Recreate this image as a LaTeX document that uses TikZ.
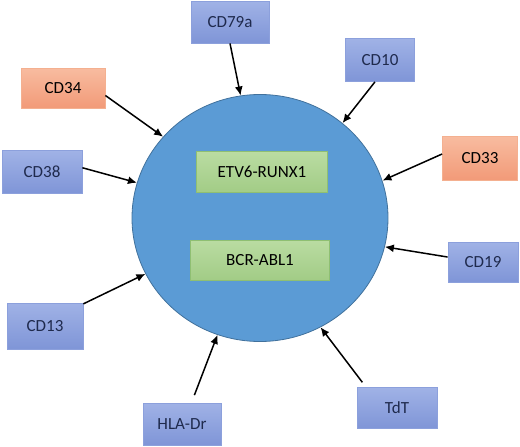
\documentclass[tikz,border=0pt]{standalone}
\usepackage{fontspec}
\setmainfont{Carlito}
\usepackage{xcolor}
\usepackage{tikz}
\usetikzlibrary{shapes.geometric, arrows.meta}
\definecolor{cellblue}{HTML}{5B9BD5}
\definecolor{cellline}{HTML}{41719C}
\definecolor{markertop}{HTML}{A0B2E6}
\definecolor{markerbot}{HTML}{7F95D7}
\definecolor{markerline}{HTML}{8CA0DC}
\definecolor{myelotop}{HTML}{F8BCA0}
\definecolor{myelobot}{HTML}{F29A78}
\definecolor{myeloline}{HTML}{F4B090}
\definecolor{fusiontop}{HTML}{BADCA2}
\definecolor{fusionbot}{HTML}{A2CC86}
\definecolor{fusionline}{HTML}{8FBF72}
\definecolor{labelnavy}{HTML}{1F2A4D}

\begin{document}
\begin{tikzpicture}[x=0.5pt, y=0.5pt,
  cell/.style={ellipse, draw=cellline, fill=cellblue, inner sep=0pt,
    minimum width=128pt, minimum height=123.5pt},
  marker/.style={draw=markerline, top color=markertop, bottom color=markerbot,
    text=labelnavy, font=\fontsize{8.5}{10}\selectfont, inner sep=0pt},
  myelo/.style={draw=myeloline, top color=myelotop, bottom color=myelobot,
    text=black, font=\fontsize{8.5}{10}\selectfont, inner sep=0pt},
  fusion/.style={draw=fusionline, top color=fusiontop, bottom color=fusionbot,
    text=black, font=\fontsize{8.5}{10}\selectfont, inner sep=0pt},
  arrow/.style={-{Latex[length=4.5pt, width=4pt]}, line width=0.75pt, draw=black}]
  \useasboundingbox (0,0) rectangle (520,446);
  \node[cell] (cell) at (260,228) {};
  \node[fusion, minimum width=65.5pt, minimum height=20.5pt] (etv) at (262,274) {ETV6-RUNX1};
  \node[fusion, minimum width=69.5pt, minimum height=20pt] (bcr) at (260,186) {BCR-ABL1};
  \node[marker, minimum width=39pt, minimum height=21pt] (cd79a) at (230,424) {CD79a};
  \node[myelo, minimum width=42pt, minimum height=20pt] (cd34) at (63,358) {CD34};
  \node[marker, minimum width=40pt, minimum height=21.5pt] (cd38) at (42,274) {CD38};
  \node[marker, minimum width=34.5pt, minimum height=21.5pt] (cd10) at (380,386) {CD10};
  \node[myelo, minimum width=37.5pt, minimum height=22pt] (cd33) at (480,288) {CD33};
  \node[marker, minimum width=35pt, minimum height=20pt] (cd19) at (483,184) {CD19};
  \node[marker, minimum width=40pt, minimum height=20.5pt] (tdt) at (397,38) {TdT};
  \node[marker, minimum width=39pt, minimum height=21pt] (hla) at (182,22) {HLA-Dr};
  \node[marker, minimum width=38pt, minimum height=23pt] (cd13) at (45,120) {CD13};
  \draw[arrow] (cd79a.south) -- (cell.99);
  \draw[arrow] (cd34.-10) -- (cell.140);
  \draw[arrow] (cd38.6) -- (cell.164);
  \draw[arrow] (cd10.-103) -- (cell.49);
  \draw[arrow] (cd33.174) -- (cell.17);
  \draw[arrow] (cd19.172) -- (cell.-13);
  \draw[arrow, shorten <=3pt] (tdt.146) -- (cell.-61);
  \draw[arrow, shorten <=4pt] (hla.66) -- (cell.-110);
  \draw[arrow] (cd13.30) -- (cell.-154);
\end{tikzpicture}
\end{document}
